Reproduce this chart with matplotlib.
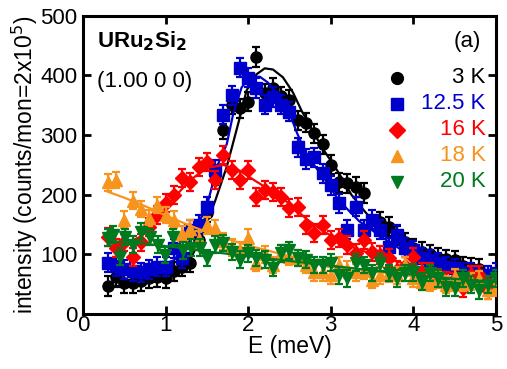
import matplotlib.pyplot as plt

plt.rcParams['font.family'] = ['Liberation Sans', 'DejaVu Sans']

# ---- data ----
labels = ['3 K', '12.5 K', '16 K', '18 K', '20 K']
colors = ['black', '#0000CC', '#FF0000', '#F7941D', '#007A1E']
markers = ['o', 's', 'D', '^', 'v']

e_3K = [0.3, 0.4, 0.5, 0.6, 0.7, 0.8, 0.9, 1.0, 1.1, 1.2, 1.3, 1.4, 1.5, 1.6, 1.7, 1.8, 1.9,
        2.0, 2.1, 2.2, 2.3, 2.4, 2.5, 2.6, 2.7, 2.8, 2.9, 3.0, 3.1, 3.2, 3.3, 3.4,
        3.6, 3.7, 3.8, 3.9, 4.0, 4.1, 4.2, 4.3, 4.4, 4.5, 4.6, 4.7, 4.8]
i_3K = [47, 62, 52, 52, 55, 60, 62, 60, 72, 79, 86, 124, 170, 233, 309, 351, 345,
        356, 431, 370, 379, 365, 359, 325, 321, 303, 285, 250, 221, 219, 213, 203,
        155, 146, 132, 120, 110, 104, 100, 94, 92, 90, 80, 78, 76]

e_12K = [0.3, 0.4, 0.5, 0.6, 0.7, 0.8, 0.9, 1.0, 1.1, 1.2, 1.3, 1.4, 1.5, 1.6, 1.7, 1.8, 1.9,
         2.0, 2.1, 2.2, 2.3, 2.4, 2.5, 2.6, 2.7, 2.8, 2.9, 3.0, 3.1, 3.2, 3.3, 3.4, 3.5,
         3.6, 3.7, 3.8, 3.9, 4.0, 4.1, 4.2, 4.3, 4.4, 4.5, 4.6, 4.7, 4.8, 4.9, 5.0]
i_12K = [86, 80, 75, 72, 70, 75, 79, 79, 110, 94, 141, 150, 180, 242, 334, 367, 413,
         396, 379, 351, 364, 351, 339, 280, 260, 263, 236, 216, 186, 141, 180, 141, 158,
         141, 112, 133, 111, 107, 94, 91, 86, 79, 77, 69, 70, 65, 65, 69]

e_16K = [0.3, 0.4, 0.5, 0.6, 0.7, 0.8, 0.9, 1.0, 1.1, 1.2, 1.3, 1.4, 1.5, 1.6, 1.7, 1.8, 1.9,
         2.0, 2.1, 2.2, 2.3, 2.4, 2.5, 2.6, 2.7, 2.8, 2.9, 3.0, 3.1, 3.2, 3.3, 3.4, 3.5,
         3.6, 3.7, 3.8, 3.9, 4.0, 4.1, 4.2, 4.3, 4.4, 4.5, 4.6, 4.7, 4.8, 4.9, 5.0]
i_16K = [129, 110, 120, 96, 120, 146, 166, 186, 200, 228, 221, 247, 255, 225, 267, 242, 225,
         242, 196, 208, 205, 196, 178, 180, 149, 136, 149, 124, 127, 115, 102, 124, 104,
         99, 94, 74, 80, 96, 70, 70, 60, 55, 58, 44, 65, 65, 40, 50]

e_18K = [0.3, 0.4, 0.5, 0.6, 0.7, 0.8, 0.9, 1.0, 1.1, 1.2, 1.3, 1.4, 1.5, 1.6, 1.7, 1.8, 1.9,
         2.0, 2.1, 2.2, 2.3, 2.4, 2.5, 2.6, 2.7, 2.8, 2.9, 3.0, 3.1, 3.2, 3.3, 3.4, 3.5,
         3.6, 3.7, 3.8, 3.9, 4.0, 4.1, 4.2, 4.3, 4.4, 4.5, 4.6, 4.7, 4.8, 4.9, 5.0]
i_18K = [221, 225, 158, 190, 176, 161, 183, 166, 158, 134, 143, 125, 149, 144, 122, 112, 107,
         128, 86, 100, 82, 102, 96, 94, 82, 70, 70, 65, 82, 75, 70, 72, 57,
         65, 68, 65, 82, 60, 54, 52, 58, 49, 62, 52, 55, 58, 40, 44]

e_20K = [0.3, 0.36, 0.45, 0.51, 0.61, 0.7, 0.81, 0.91, 0.99, 1.09, 1.21, 1.31, 1.42, 1.5, 1.6,
         1.7, 1.8, 1.9, 2.0, 2.1, 2.2, 2.3, 2.4, 2.5, 2.6, 2.7, 2.8, 2.9, 3.0, 3.1, 3.2, 3.3,
         3.4, 3.5, 3.6, 3.7, 3.8, 3.9, 4.0, 4.1, 4.2, 4.3, 4.4, 4.5, 4.6, 4.7, 4.8, 4.9, 5.0]
i_20K = [128, 133, 96, 129, 116, 138, 129, 116, 99, 129, 107, 111, 111, 94, 116,
         119, 104, 91, 102, 94, 91, 77, 102, 107, 94, 91, 82, 82, 86, 65, 60, 86,
         82, 69, 86, 69, 60, 69, 70, 54, 69, 60, 45, 44, 60, 49, 40, 49, 60]

errs = [16, 16, 15, 14, 14]

# fitted curves
fe_3K = [0.3, 0.6, 0.9, 1.1, 1.3, 1.45, 1.6, 1.74, 1.88, 1.98, 2.1, 2.2, 2.3, 2.42, 2.54, 2.65,
         2.77, 2.9, 3.1, 3.25, 3.4, 3.56, 3.8, 4.0, 4.3, 4.6, 5.0]
fi_3K = [45, 50, 58, 68, 92, 135, 190, 247, 320, 375, 402, 412, 410, 397, 372, 340,
         310, 278, 236, 200, 174, 148, 120, 105, 88, 75, 60]
fe_12K = [0.3, 0.6, 0.9, 1.1, 1.3, 1.5, 1.63, 1.74, 1.82, 1.92, 2.02, 2.14, 2.24, 2.37, 2.5,
          2.59, 2.72, 2.91, 3.1, 3.35, 3.63, 3.92, 4.2, 4.5, 4.8, 5.0]
fi_12K = [82, 78, 80, 90, 125, 182, 250, 285, 337, 380, 398, 398, 388, 365, 337,
          304, 263, 230, 190, 155, 128, 102, 88, 78, 68, 62]
fe_16K = [0.3, 0.5, 0.7, 0.9, 1.1, 1.3, 1.5, 1.7, 1.9, 2.1, 2.3, 2.5, 2.7, 2.9, 3.1, 3.3,
          3.6, 3.96, 4.3, 4.6, 5.0]
fi_16K = [118, 118, 130, 160, 195, 225, 245, 250, 240, 222, 205, 185, 160, 140, 123, 110,
          96, 82, 72, 66, 58]
fe_18K = [0.3, 0.5, 0.8, 1.0, 1.3, 1.6, 2.0, 2.5, 3.0, 3.5, 4.0, 4.5, 5.0]
fi_18K = [205, 195, 178, 165, 148, 132, 115, 97, 82, 72, 63, 56, 50]
fe_20K = [0.3, 0.6, 1.0, 1.5, 2.0, 2.5, 3.0, 3.5, 4.0, 4.5, 5.0]
fi_20K = [122, 120, 114, 105, 97, 89, 81, 73, 66, 59, 54]

series = [(e_3K, i_3K, fe_3K, fi_3K), (e_12K, i_12K, fe_12K, fi_12K),
          (e_16K, i_16K, fe_16K, fi_16K), (e_18K, i_18K, fe_18K, fi_18K),
          (e_20K, i_20K, fe_20K, fi_20K)]

fs = 16

fig = plt.figure(figsize=(5.07, 3.69), dpi=100)
ax = fig.add_axes([0.164, 0.149, 0.814, 0.808])

for k, (e, i, fe, fi) in enumerate(series):
    ax.errorbar(e, i, yerr=errs[k], fmt=markers[k], color=colors[k], ms=8 if k != 2 else 7,
                elinewidth=1.6, capsize=3, capthick=1.6, zorder=2 + k)
    ax.plot(fe, fi, '-', color=colors[k], lw=1.6, zorder=2 + k)

ax.set_xlim(0, 5)
ax.set_ylim(0, 500)
ax.set_xticks([0, 1, 2, 3, 4, 5])
ax.set_yticks([0, 100, 200, 300, 400, 500])
ax.tick_params(direction='in', length=6, width=2, labelsize=fs, top=True, right=True)
ax.tick_params(axis='x', pad=1)
ax.tick_params(axis='y', pad=4)
for s in ax.spines.values():
    s.set_linewidth(2.2)

ax.set_xlabel('E (meV)', fontsize=fs + 0.5, labelpad=-1)
ax.set_ylabel(r'intensity (counts/mon=2x10$^5$)', fontsize=fs + 0.5, labelpad=0)

ax.text(0.034, 0.893, r'URu$_\mathbf{2}$Si$_\mathbf{2}$', transform=ax.transAxes, fontsize=fs,
        fontweight='bold', va='baseline')
ax.text(0.034, 0.762, '(1.00 0 0)', transform=ax.transAxes, fontsize=fs, va='baseline')
ax.text(0.963, 0.896, '(a)', transform=ax.transAxes, fontsize=fs, va='baseline', ha='right')

# legend
for k in range(5):
    y = 0.792 - k * 0.0873
    ax.plot([0.76], [y], markers[k], color=colors[k], ms=8.5, transform=ax.transAxes, zorder=10)
    ax.text(0.975, y, labels[k], color=colors[k], transform=ax.transAxes, fontsize=fs,
            va='center', ha='right')

fig.savefig('out.png', dpi=100)
